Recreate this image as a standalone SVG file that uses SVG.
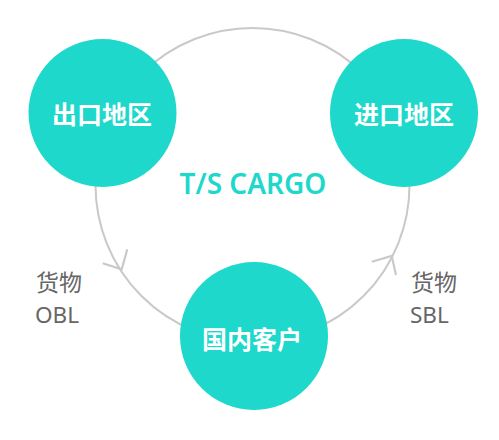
<svg xmlns="http://www.w3.org/2000/svg" width="499" height="440" viewBox="0 0 499 440">
<style>
.ring{fill:none;stroke:#c9c9c9;stroke-width:2}
.head{fill:none;stroke:#c9c9c9;stroke-width:2.2;stroke-linejoin:miter}
.node{fill:#1dd8cb}
.nt{fill:#fff;font-family:"Noto Sans CJK SC","Noto Sans",sans-serif;font-weight:700;font-size:25px;text-anchor:middle;dominant-baseline:central}
.lbl{fill:#666;font-family:"Noto Sans CJK SC","Noto Sans",sans-serif;font-size:23px}
.lat{fill:#666;font-family:"Noto Sans",sans-serif;font-size:22.5px}
.title{fill:#1dd8cb;font-family:"Noto Sans","Noto Sans CJK SC",sans-serif;font-weight:600;font-size:28px;text-anchor:middle}
</style>
<rect width="499" height="440" fill="#fff"/>
<g id="connectors">
<circle class="ring" cx="252.5" cy="185" r="157"/>
<path class="head" d="M102.7 263.3 L121.7 269.3 L127.3 249.3"/>
<path class="head" d="M371.7 261.7 L391.7 256 L396 275"/>
</g>
<g id="export">
<circle class="node" cx="102.5" cy="113" r="74"/>
<text class="nt" x="102" y="113">出口地区</text>
</g>
<g id="import">
<circle class="node" cx="404" cy="113" r="74"/>
<text class="nt" x="404" y="113">进口地区</text>
</g>
<g id="customer">
<circle class="node" cx="254" cy="336" r="74"/>
<text class="nt" x="252" y="338">国内客户</text>
</g>
<text class="title" x="253" y="194">T/S CARGO</text>
<g id="obl-label">
<text class="lbl" x="36" y="291">货物</text>
<text class="lat" x="35" y="322.5">OBL</text>
</g>
<g id="sbl-label">
<text class="lbl" x="411" y="291">货物</text>
<text class="lat" x="410" y="322.5">SBL</text>
</g>
</svg>
